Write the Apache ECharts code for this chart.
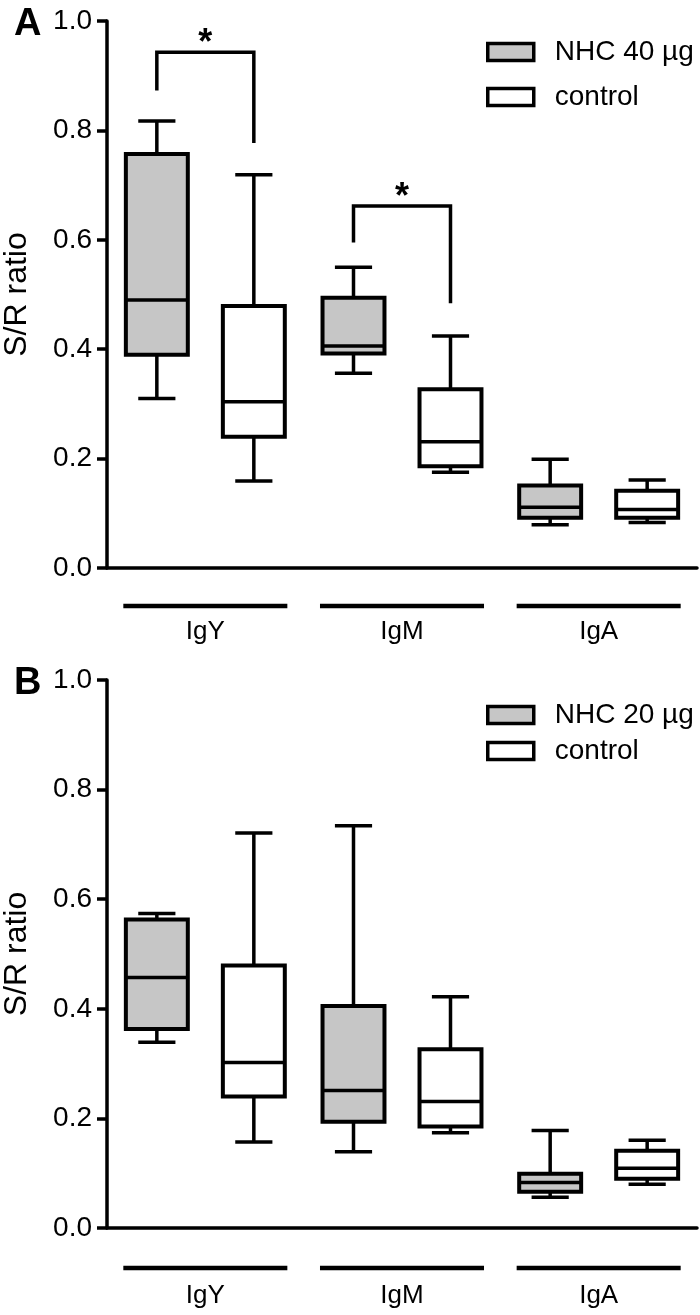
<!DOCTYPE html>
<html><head><meta charset="utf-8">
<script src="https://cdn.jsdelivr.net/npm/echarts@6/dist/echarts.min.js"></script>
<style>html,body{margin:0;padding:0;background:#fff}#c{width:700px;height:1315px}</style>
</head><body><div id="c"></div>
<script>
// ---- data ----
const categories = ['IgY', 'IgM', 'IgA'];
const yMin = 0, yMax = 1.0, yStep = 0.2;
// each entry: [min, Q1, median, Q3, max]
const nhc40 = [[0.310, 0.390, 0.490, 0.757, 0.817], [0.356, 0.392, 0.406, 0.494, 0.550], [0.079, 0.092, 0.111, 0.151, 0.199]];
const controlA = [[0.159, 0.240, 0.304, 0.479, 0.719], [0.175, 0.186, 0.231, 0.327, 0.424], [0.083, 0.092, 0.107, 0.141, 0.161]];
const nhc20 = [[0.339, 0.363, 0.457, 0.563, 0.574], [0.139, 0.194, 0.251, 0.405, 0.734], [0.056, 0.066, 0.083, 0.099, 0.178]];
const controlB = [[0.157, 0.240, 0.302, 0.479, 0.721], [0.174, 0.185, 0.231, 0.326, 0.422], [0.080, 0.090, 0.109, 0.141, 0.160]];
// significance brackets (panel A): [category index, bracket top, left leg end, right leg end, label]
const sigA = [[0, 0.943, 0.873, 0.777, '*'], [1, 0.662, 0.595, 0.484, '*']];
const seriesNames = { nhcA: 'NHC 40 µg', nhcB: 'NHC 20 µg', ctrl: 'control' };

// ---- style ----
const FONT = '"Liberation Sans", Arial, Helvetica, sans-serif';
const GREY = '#c6c6c6';
const OFF = 0.2466, BOXW = 0.315, CAP = 0.6;

function boxRender(side, fill) {
  return function (params, api) {
    const cat = api.value(0);
    const band = api.size([1, 0])[0];
    const x = api.coord([cat, 0])[0] + side * band * OFF;
    const w = band * BOXW, cw = w * CAP;
    const Y = v => api.coord([cat, v])[1];
    const mn = Y(api.value(1)), q1 = Y(api.value(2)), md = Y(api.value(3)), q3 = Y(api.value(4)), mx = Y(api.value(5));
    const ls = { stroke: '#000', lineWidth: 3.5 };
    return { type: 'group', children: [
      { type: 'line', shape: { x1: x, y1: mx, x2: x, y2: q3 }, style: ls },
      { type: 'line', shape: { x1: x, y1: q1, x2: x, y2: mn }, style: ls },
      { type: 'line', shape: { x1: x - cw / 2, y1: mx, x2: x + cw / 2, y2: mx }, style: ls },
      { type: 'line', shape: { x1: x - cw / 2, y1: mn, x2: x + cw / 2, y2: mn }, style: ls },
      { type: 'rect', shape: { x: x - w / 2, y: q3, width: w, height: q1 - q3 }, style: { fill: fill, stroke: '#000', lineWidth: 4 } },
      { type: 'line', shape: { x1: x - w / 2, y1: md, x2: x + w / 2, y2: md }, style: ls }
    ] };
  };
}
function underlineRender(offsetPx) {
  return function (params, api) {
    const cat = api.value(0);
    const band = api.size([1, 0])[0];
    const c = api.coord([cat, 0]);
    return { type: 'line', shape: { x1: c[0] - band * 0.417, y1: c[1] + offsetPx, x2: c[0] + band * 0.417, y2: c[1] + offsetPx },
      style: { stroke: '#000', lineWidth: 4.5 } };
  };
}
function bracketRender(params, api) {
  const cat = api.value(0);
  const band = api.size([1, 0])[0];
  const cx = api.coord([cat, 0])[0];
  const xl = cx - band * OFF, xr = cx + band * OFF;
  const yt = api.coord([cat, api.value(1)])[1];
  const yl = api.coord([cat, api.value(2)])[1];
  const yr = api.coord([cat, api.value(3)])[1];
  return { type: 'group', children: [
    { type: 'polyline', shape: { points: [[xl, yl], [xl, yt], [xr, yt], [xr, yr]] }, style: { stroke: '#000', lineWidth: 3.5, fill: null } },
    { type: 'text', x: cx, y: yt - 8, style: { text: sigA[params.dataIndex][4], font: 'bold 36px ' + FONT, fill: '#000', align: 'center', verticalAlign: 'middle' } }
  ] };
}

const grids = [
  { left: 107, width: 590, top: 21, height: 547, containLabel: false, outerBoundsMode: 'none' },
  { left: 107, width: 590, top: 680, height: 548, containLabel: false, outerBoundsMode: 'none' }
];
function xAxisFor(gi, margin) {
  return { type: 'category', gridIndex: gi, data: categories,
    axisLine: { lineStyle: { color: '#000', width: 3.5 } }, axisTick: { show: false },
    axisLabel: { interval: 0, margin: margin, color: '#000', fontFamily: FONT, fontSize: 26 },
    splitLine: { show: false } };
}
function yAxisFor(gi) {
  return { type: 'value', gridIndex: gi, min: yMin, max: yMax, interval: yStep,
    name: 'S/R ratio', nameLocation: 'middle', nameGap: 74,
    nameTextStyle: { color: '#000', fontFamily: FONT, fontSize: 32 },
    axisLine: { show: true, lineStyle: { color: '#000', width: 3.5 } },
    axisTick: { show: true, inside: false, length: 10, lineStyle: { color: '#000', width: 3.5 } },
    axisLabel: { margin: 15, color: '#000', fontFamily: FONT, fontSize: 28, formatter: v => v.toFixed(1) },
    splitLine: { show: false } };
}
function legendFor(names, top, gap) {
  return { orient: 'vertical', left: 486, top: top, padding: 0, itemGap: gap, itemWidth: 46, itemHeight: 17,
    icon: 'rect', data: names, selectedMode: false,
    itemStyle: { borderColor: '#000', borderWidth: 3.5 },
    textStyle: { color: '#000', fontFamily: FONT, fontSize: 28, padding: [0, 0, 0, 16] } };
}
function boxSeries(name, data, gi, side, fill) {
  return { type: 'custom', name: name, xAxisIndex: gi, yAxisIndex: gi,
    itemStyle: { color: fill, borderColor: '#000', borderWidth: 3.5 },
    renderItem: boxRender(side, fill),
    encode: { x: 0, y: [1, 2, 3, 4, 5] },
    data: data.map((d, i) => [i].concat(d)), silent: true, animation: false };
}

const option = {
  backgroundColor: '#fff',
  animation: false,
  title: [
    { text: 'A', left: 9, top: 1, textStyle: { fontFamily: FONT, fontWeight: 'bold', fontSize: 38, color: '#000' } },
    { text: 'B', left: 9, top: 660, textStyle: { fontFamily: FONT, fontWeight: 'bold', fontSize: 38, color: '#000' } }
  ],
  legend: [
    legendFor([seriesNames.nhcA, seriesNames.ctrl], 38, 17),
    legendFor([seriesNames.nhcB, seriesNames.ctrl], 701, 8)
  ],
  grid: grids,
  xAxis: [xAxisFor(0, 51), xAxisFor(1, 55)],
  yAxis: [yAxisFor(0), yAxisFor(1)],
  series: [
    boxSeries(seriesNames.nhcA, nhc40, 0, -1, GREY),
    boxSeries(seriesNames.ctrl, controlA, 0, 1, '#fff'),
    boxSeries(seriesNames.nhcB, nhc20, 1, -1, GREY),
    boxSeries(seriesNames.ctrl, controlB, 1, 1, '#fff'),
    { type: 'custom', xAxisIndex: 0, yAxisIndex: 0, renderItem: underlineRender(38), data: categories.map((c, i) => [i]), encode: { x: 0 }, silent: true },
    { type: 'custom', xAxisIndex: 1, yAxisIndex: 1, renderItem: underlineRender(40), data: categories.map((c, i) => [i]), encode: { x: 0 }, silent: true },
    { type: 'custom', xAxisIndex: 0, yAxisIndex: 0, renderItem: bracketRender, data: sigA.map(s => s.slice(0, 4)), encode: { x: 0, y: [1, 2, 3] }, silent: true }
  ]
};
const chart = echarts.init(document.getElementById('c'), null, { renderer: 'canvas' });
chart.setOption(option);
</script></body></html>
